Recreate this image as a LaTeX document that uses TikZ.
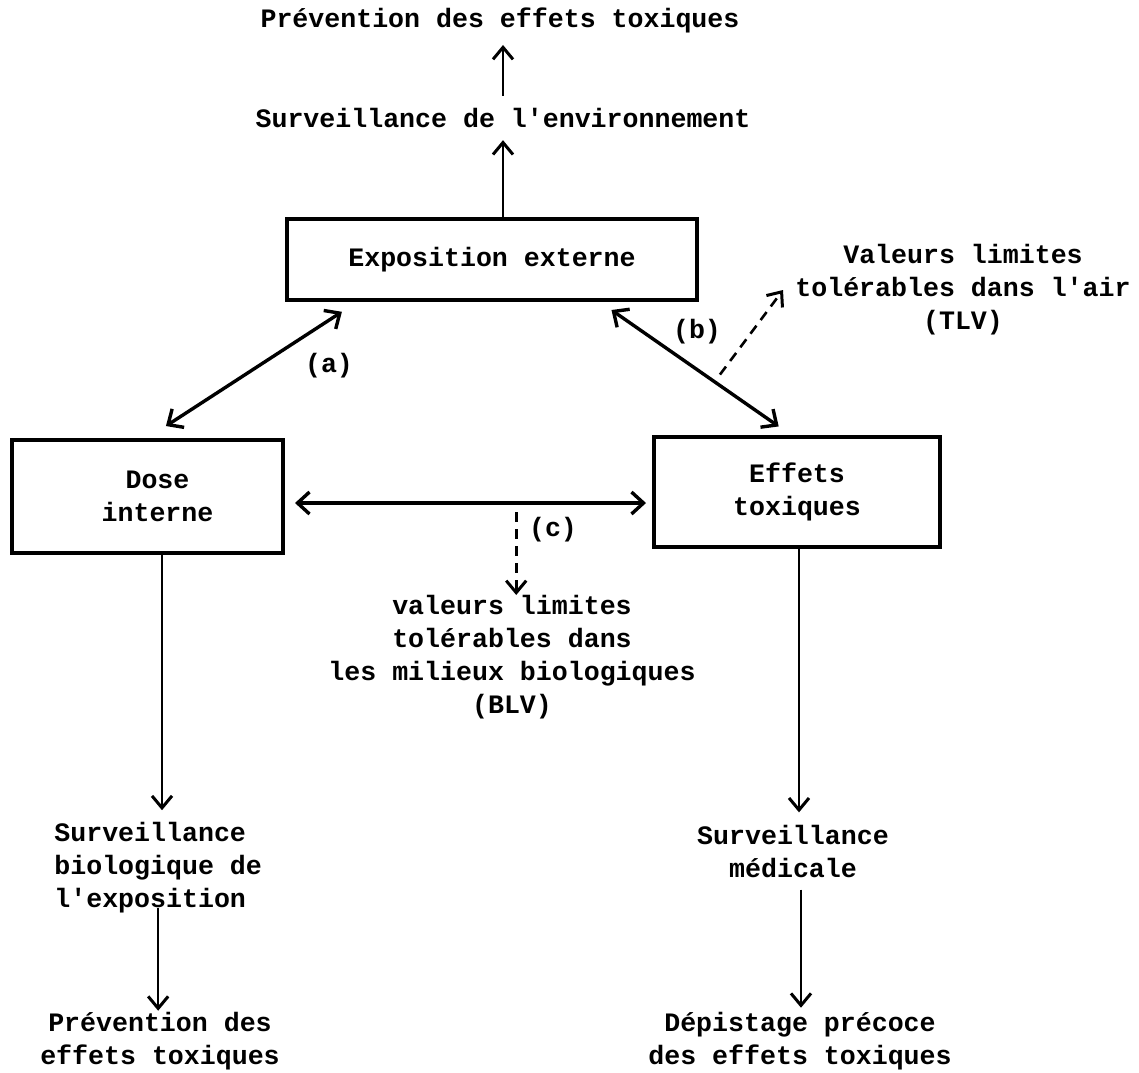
\documentclass[tikz,border=0pt]{standalone}
\usepackage{fontspec}
\setmonofont{Liberation Mono}
\usetikzlibrary{arrows.meta,calc}

\begin{document}
\begin{tikzpicture}[x=0.5pt,y=-0.5pt,
    font=\ttfamily\fontsize{13.3}{16.5}\selectfont\bfseries,
    txt/.style={inner sep=6pt,align=center},
    boite/.style={draw,line width=2pt,inner sep=0pt,align=center},
    fl/.style={-{Straight Barb[length=6pt,width=10pt,line width=1.5pt]},line width=1pt},
    dfl/.style={{Straight Barb[length=6pt,width=11pt]}-{Straight Barb[length=6pt,width=11pt]},line width=1.7pt},
    tiret/.style={fl,line width=1.3pt,dash pattern=on 5pt off 3.5pt}]
  \useasboundingbox (0,0) rectangle (1139,1072);

  \node[txt] (prevhaut) at (500,20) {Prévention des effets toxiques};
  \node[txt] (surenv) at (503,118) {Surveillance de l'environnement};
  \node[boite,minimum width=205pt,minimum height=40.5pt] (expo) at (492,259.5) {Exposition externe};
  \node[boite,minimum width=135.5pt,minimum height=56.5pt] (dose) at (147.5,496.5) {\hspace*{10pt}Dose\\\hspace*{10pt}interne};
  \node[boite,minimum width=143pt,minimum height=55pt] (effets) at (797,492) {Effets\\toxiques};
  \node[txt] (tlv) at (963,290) {Valeurs limites\\tolérables dans l'air\\(TLV)};
  \node[txt,inner sep=0pt,anchor=north] (blv) at (512,595) {valeurs limites\\tolérables dans\\les milieux biologiques\\(BLV)};
  \node[txt,align=left,anchor=west] (survbio) at (42,868) {Surveillance\\biologique de\\l'exposition};
  \node[txt] (survmed) at (793,851) {Surveillance\\médicale};
  \node[txt] (prevbas) at (160,1041) {Prévention des\\effets toxiques};
  \node[txt] (depist) at (800,1041) {Dépistage précoce\\des effets toxiques};
  \node (la) at (329,366) {(a)};
  \node (lb) at (697,332) {(b)};
  \node (lc) at (553,530) {(c)};

  \draw[fl,line width=1.4pt] (surenv.north) -- (surenv.north |- prevhaut.south);
  \draw[fl,line width=1.4pt] (expo.north -| surenv) -- (surenv.south);

  \draw[dfl,shorten <=11pt,shorten >=9pt] (dose.north) -- ($(expo.south west)+(72,0)$);
  \draw[dfl,shorten <=7pt,shorten >=7.5pt] ($(expo.south east)+(-99,0)$) -- ($(effets.north)+(-6,0)$) coordinate[pos=0.6] (bmil);
  \draw[dfl,shorten <=5pt,shorten >=3pt] ([yshift=-3.25pt]dose.east) -- ([yshift=-3.25pt]dose.east -| effets.west) coordinate[pos=0.63] (cmil);

  \draw[tiret,shorten <=4.5pt] (bmil) -- (tlv.west);
  \draw[tiret,shorten <=4.5pt] (cmil) -- (cmil |- blv.north);

  \draw[fl] ([xshift=7.25pt]dose.south) -- ([xshift=7.25pt]dose.south |- survbio.north);
  \draw[fl,shorten <=-9pt,shorten >=-5.5pt] (survbio.south) -- (survbio.south |- prevbas.north);
  \draw[fl] ([xshift=1pt]effets.south) -- ([xshift=1pt]effets.south |- survmed.north);
  \draw[fl,shorten >=-4pt] ([xshift=4pt]survmed.south) -- ([xshift=4pt]survmed.south |- depist.north);
\end{tikzpicture}
\end{document}
